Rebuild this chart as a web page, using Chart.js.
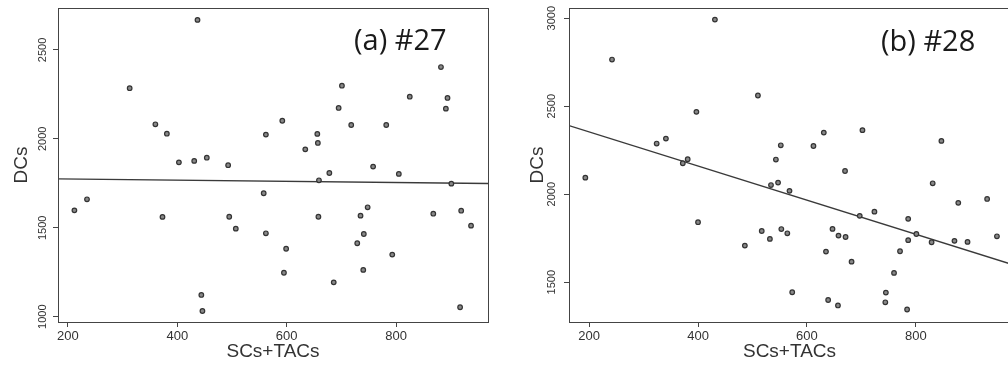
<!DOCTYPE html>
<html>
<head>
<meta charset="utf-8">
<script src="https://cdn.jsdelivr.net/npm/chart.js@4.4.1/dist/chart.umd.min.js"></script>
<style>
    html, body { margin: 0; padding: 0; background: #fff; overflow: hidden; width: 1008px; height: 370px; }
    #leftWrap { position: absolute; left: 0; top: 0; }
    #rightWrap { position: absolute; left: 500px; top: 0; }
</style>
</head>
<body>
<div id="leftWrap"><canvas id="chartA" width="500" height="370"></canvas></div>
<div id="rightWrap"><canvas id="chartB" width="520" height="370"></canvas></div>
<script>
// --- data ---
const xTicks = [200, 400, 600, 800];

// (a) #27
const panelALabel = '(a) #27';
const scTacA = [437, 313, 360, 381, 403, 431, 454, 493, 882, 701, 825, 894, 891, 695, 592, 718, 782, 562,
    656, 657, 634, 758, 678, 805, 659, 901, 212, 235, 373, 495, 507, 444, 446, 558, 658, 735, 748, 868, 919, 937,
    562, 599, 741, 729, 793, 595, 740, 686, 917];
const dcA = [2669, 2285, 2082, 2029, 1868, 1876, 1894, 1852, 2404, 2299, 2237, 2230, 2170, 2174, 2102, 2078, 2078, 2024,
    2028, 1977, 1941, 1844, 1808, 1803, 1767, 1748, 1598, 1660, 1561, 1562, 1495, 1122, 1032, 1694, 1562, 1568, 1615, 1579, 1596, 1512,
    1469, 1382, 1465, 1413, 1349, 1247, 1263, 1193, 1053];
const yTicksA = [1000, 1500, 2000, 2500];
const fitA = { intercept: 1781, slope: -0.0331 };

// (b) #28
const panelBLabel = '(b) #28';
const scTacB = [193, 242, 431, 510, 397, 341, 324, 381, 372, 400, 486, 702, 631, 552, 612, 847, 543, 670, 547, 534,
    831, 568, 878, 931, 724, 697, 786, 801, 949, 786, 829, 871, 895, 517, 532, 553, 564, 647, 658, 671,
    635, 771, 682, 760, 573, 745, 639, 744, 657, 784];
const dcB = [2094, 2765, 2992, 2561, 2468, 2316, 2288, 2199, 2176, 1841, 1708, 2364, 2350, 2278, 2274, 2303, 2197, 2132, 2066, 2052,
    2062, 2019, 1951, 1973, 1901, 1877, 1860, 1774, 1761, 1739, 1727, 1735, 1729, 1791, 1746, 1802, 1778, 1803, 1765, 1757,
    1674, 1676, 1617, 1553, 1443, 1441, 1399, 1386, 1368, 1345];
const yTicksB = [1500, 2000, 2500, 3000];
const fitB = { intercept: 2548, slope: -0.969 };

const FONT = "'Liberation Sans', Arial, sans-serif";
const INK = '#333';

// R-style frame, rotated y tick labels and the panel tag
const rFrame = {
    id: 'rFrame',
    afterDraw(chart, args, opts) {
        const { ctx, chartArea: a } = chart;
        const y = chart.scales.y;
        ctx.save();
        ctx.strokeStyle = '#444';
        ctx.lineWidth = 1;
        ctx.strokeRect(a.left + 0.5, a.top + 0.5, a.right - a.left, a.bottom - a.top);

        ctx.fillStyle = INK;
        ctx.font = '11px ' + FONT;
        ctx.textAlign = 'center';
        ctx.textBaseline = 'middle';
        opts.yTicks.forEach(v => {
            ctx.save();
            ctx.translate(a.left - opts.tickGap, y.getPixelForValue(v));
            ctx.rotate(-Math.PI / 2);
            ctx.fillText(String(v), 0, 0);
            ctx.restore();
        });

        ctx.fillStyle = '#1a1a1a';
        ctx.font = "29px 'Open Sans', sans-serif";
        ctx.textAlign = 'left';
        ctx.textBaseline = 'alphabetic';
        ctx.fillText(opts.label, opts.labelX, opts.labelY);
        ctx.restore();
    }
};

function makePanel(id, xs, ys, fit, yTicks, xRange, yRange, frame) {
    const points = xs.map((x, i) => ({ x: x, y: ys[i] }));
    const fitLine = xRange.map(x => ({ x: x, y: fit.intercept + fit.slope * x }));

    return new Chart(document.getElementById(id), {
        type: 'scatter',
        data: {
            datasets: [{
                data: points,
                pointRadius: 2.3,
                pointBackgroundColor: '#888',
                pointBorderColor: '#333',
                pointBorderWidth: 1.2
            }, {
                type: 'line',
                data: fitLine,
                borderColor: '#3a3a3a',
                borderWidth: 1.4,
                pointRadius: 0,
                fill: false
            }]
        },
        options: {
            responsive: false,
            animation: false,
            layout: { padding: { left: 0, top: 8, right: frame.padRight, bottom: 0 } },
            plugins: {
                legend: { display: false },
                tooltip: { enabled: false },
                rFrame: frame
            },
            scales: {
                x: {
                    type: 'linear',
                    min: xRange[0],
                    max: xRange[1],
                    afterBuildTicks: s => { s.ticks = xTicks.map(v => ({ value: v })); },
                    afterFit: s => { s.height = 48; },
                    ticks: { color: INK, font: { family: FONT, size: 13 }, padding: 2, maxRotation: 0 },
                    grid: { drawOnChartArea: false, drawTicks: true, tickLength: 5, color: '#444' },
                    border: { display: true, color: '#444' },
                    title: {
                        display: true, text: 'SCs+TACs', color: INK,
                        font: { family: FONT, size: 19 },
                        padding: { top: 0, bottom: 7 }
                    }
                },
                y: {
                    type: 'linear',
                    min: yRange[0],
                    max: yRange[1],
                    afterBuildTicks: s => { s.ticks = yTicks.map(v => ({ value: v })); },
                    afterFit: s => { s.width = frame.axisWidth; },
                    ticks: { display: false },
                    grid: { drawOnChartArea: false, drawTicks: true, tickLength: 5, color: '#444' },
                    border: { display: true, color: '#444' },
                    title: {
                        display: true, text: 'DCs', color: INK,
                        font: { family: FONT, size: 19 },
                        padding: { top: frame.titlePad, bottom: 0 }
                    }
                }
            }
        },
        plugins: [rFrame]
    });
}

makePanel('chartA', scTacA, dcA, fitA, yTicksA, [182, 968], [970, 2736], {
    yTicks: yTicksA, tickGap: 15.5, label: panelALabel, labelX: 354, labelY: 50,
    padRight: 12, axisWidth: 58, titlePad: 10
});

makePanel('chartB', scTacB, dcB, fitB, yTicksB, [163, 973], [1274, 3058], {
    yTicks: yTicksB, tickGap: 17, label: panelBLabel, labelX: 381, labelY: 51,
    padRight: 10, axisWidth: 69, titlePad: 26
});
</script>
</body>
</html>
